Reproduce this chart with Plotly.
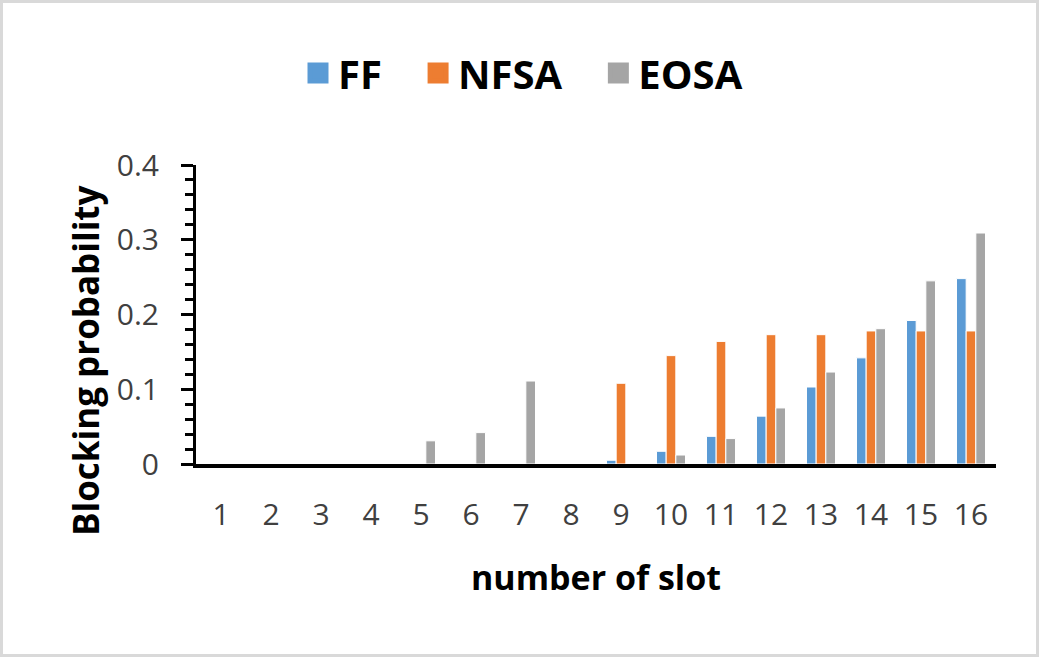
import plotly.graph_objects as go

categories = [str(i) for i in range(1, 17)]
ff = [0, 0, 0, 0, 0, 0, 0, 0, 0.005, 0.017, 0.037, 0.064, 0.103, 0.142, 0.192, 0.248]
nfsa = [0, 0, 0, 0, 0, 0, 0, 0, 0.108, 0.145, 0.164, 0.173, 0.173, 0.178, 0.178, 0.178]
eosa = [0, 0, 0, 0, 0.031, 0.042, 0.111, 0, 0, 0.012, 0.034, 0.075, 0.123, 0.181, 0.245, 0.309]
series_names = ["FF", "NFSA", "EOSA"]
colors = ["#5B9BD5", "#ED7D31", "#A5A5A5"]
y_ticks = [0, 0.1, 0.2, 0.3, 0.4]
y_tick_labels = ["0", "0.1", "0.2", "0.3", "0.4"]

W, H = 1039, 657
ML, MR, MT, MB = 196, 43, 165, 193
PW, PH = W - ML - MR, H - MT - MB

FONT = "Open Sans"
NBSP = "\u00a0"

fig = go.Figure()
for i, (name, vals, col) in enumerate(zip(series_names, [ff, nfsa, eosa], colors)):
    fig.add_trace(go.Bar(
        x=categories, y=vals, name=name, legendgroup=name, showlegend=False,
        marker=dict(color=col, line=dict(color="white", width=1)),
    ))
    # legend entry with a larger square swatch
    label = name + (NBSP * 3 if i < len(series_names) - 1 else "")
    fig.add_trace(go.Scatter(
        x=[None], y=[None], mode="markers", name=label, legendgroup=name,
        marker=dict(symbol="square", size=16, color=col, line=dict(color=col, width=5)),
        hoverinfo="skip",
    ))

fig.update_layout(
    width=W, height=H,
    margin=dict(l=ML, r=MR, t=MT, b=MB),
    paper_bgcolor="white", plot_bgcolor="white",
    barmode="group", bargap=0.42, bargroupgap=0,
    font=dict(family=FONT, color="#000000"),
    showlegend=True,
    legend=dict(
        orientation="h", xref="container", yref="container",
        x=298 / W, xanchor="left", y=1 - 73 / H, yanchor="middle",
        font=dict(family=FONT, size=40, color="#000000", weight="bold"),
        traceorder="normal",
    ),
    xaxis=dict(
        type="category", showgrid=False, zeroline=False,
        showline=True, linecolor="#000000", linewidth=4,
        ticks="", tickfont=dict(family=FONT, size=30, color="#404040"),
        ticklabelstandoff=21,
        title=dict(text="number of slot", font=dict(family=FONT, size=34, color="#000000", weight="bold"), standoff=34),
    ),
    yaxis=dict(
        range=[0, 0.4], showgrid=False, zeroline=False,
        showline=True, linecolor="#000000", linewidth=3,
        tickmode="array", tickvals=y_ticks, ticktext=y_tick_labels,
        ticks="outside", ticklen=12, tickwidth=3, tickcolor="#000000",
        minor=dict(dtick=0.02, ticks="outside", ticklen=8, tickwidth=3, tickcolor="#000000"),
        tickfont=dict(family=FONT, size=30, color="#404040"),
        ticklabelstandoff=16,
    ),
    annotations=[dict(
        text="Blocking probability", textangle=-90,
        xref="paper", yref="paper",
        x=(85 - ML) / PW, y=(H - MB - 360) / PH,
        xanchor="center", yanchor="middle", showarrow=False,
        font=dict(family=FONT, size=35, color="#000000", weight="bold"),
    )],
    shapes=[dict(
        type="rect", xref="paper", yref="paper",
        x0=(1.5 - ML) / PW, x1=(W - 1.5 - ML) / PW,
        y0=-(MB - 1.5) / PH, y1=(MT + PH - 1.5) / PH,
        line=dict(color="#D9D9D9", width=3), fillcolor="rgba(0,0,0,0)", layer="below",
    )],
)

fig.write_html("out.html")
